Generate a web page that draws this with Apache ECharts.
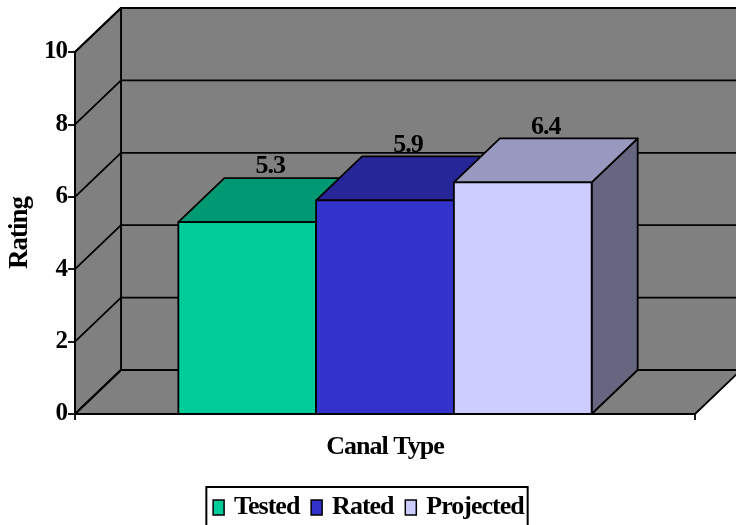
<!DOCTYPE html>
<html>
<head>
<meta charset="utf-8">
<script src="https://cdn.jsdelivr.net/npm/echarts@6/dist/echarts.min.js"></script>
<style>
  html, body { margin: 0; padding: 0; background: #fff; }
  #chart { width: 736px; height: 525px; }
</style>
</head>
<body>
<div id="chart"></div>
<script>
// ---- chart data ----
const categories = [''];
const seriesNames = ['Tested', 'Rated', 'Projected'];
const testedValues = [5.3];
const ratedValues = [5.9];
const projectedValues = [6.4];
const yTickValues = [0, 2, 4, 6, 8, 10];

// ---- styling ----
const FONT = "'Liberation Serif', 'Times New Roman', serif";
const TRACKING = '-1px'; // tight letter tracking for all chart text
const DEPTH_X = 46;    // 3-D depth offset, pixels
const DEPTH_Y = -44;
const GAP_RATIO = 1.5; // gap between category groups, in bar widths
const WALL = '#808080';
const EDGE = '#000';
const LW = 1.8;
const palette = [
  { front: '#00CC99', top: '#009973', side: '#006B50' },
  { front: '#3333CC', top: '#262699', side: '#1A1A70' },
  { front: '#CCCCFF', top: '#9999BF', side: '#666680' }
];
const seriesValues = [testedValues, ratedValues, projectedValues];

// Apply the tracking whenever a canvas font is set (used for both measuring and drawing)
(function () {
  const proto = CanvasRenderingContext2D.prototype;
  const fontDesc = Object.getOwnPropertyDescriptor(proto, 'font');
  if (fontDesc && 'letterSpacing' in proto) {
    Object.defineProperty(proto, 'font', {
      configurable: true,
      get: function () { return fontDesc.get.call(this); },
      set: function (v) { fontDesc.set.call(this, v); this.letterSpacing = TRACKING; }
    });
  }
})();

const chart = echarts.init(document.getElementById('chart'), null, { renderer: 'canvas' });

// Back wall, side wall and floor of the 3-D box, plus gridlines
function renderWalls(params, api) {
  const band = api.size([1, 0])[0];
  const nCat = categories.length;
  const c0 = api.coord([0, yTickValues[0]]);
  const xl = c0[0] - band / 2;
  const xr = xl + band * nCat;
  const yMin = yTickValues[0];
  const yMax = yTickValues[yTickValues.length - 1];
  const y0 = api.coord([0, yMin])[1];
  const y1 = api.coord([0, yMax])[1];
  const dx = DEPTH_X, dy = DEPTH_Y;
  const st = { fill: WALL, stroke: EDGE, lineWidth: LW, lineJoin: 'round' };
  const ln = { stroke: EDGE, lineWidth: LW, fill: null };
  const children = [
    { type: 'polygon', shape: { points: [[xl + dx, y0 + dy], [xl + dx, y1 + dy], [xr + dx, y1 + dy], [xr + dx, y0 + dy]] }, style: st },
    { type: 'polygon', shape: { points: [[xl, y0], [xl, y1], [xl + dx, y1 + dy], [xl + dx, y0 + dy]] }, style: st },
    { type: 'polygon', shape: { points: [[xl, y0], [xr, y0], [xr + dx, y0 + dy], [xl + dx, y0 + dy]] }, style: st }
  ];
  yTickValues.forEach(function (v) {
    const y = api.coord([0, v])[1];
    children.push({ type: 'polyline', shape: { points: [[xl, y], [xl + dx, y + dy], [xr + dx, y + dy]] }, style: ln });
  });
  return { type: 'group', children: children, silent: true };
}

// One 3-D bar: side face, top face, front face and its value label
function makeBarRenderer(si) {
  const col = palette[si];
  return function (params, api) {
    const cat = api.value(0);
    const val = api.value(1);
    const base = api.coord([cat, 0]);
    const top = api.coord([cat, val]);
    const band = api.size([1, 0])[0];
    const n = seriesNames.length;
    const bw = band / (n + GAP_RATIO);
    const x0 = base[0] - bw * n / 2 + bw * si;
    const x1 = x0 + bw;
    const yb = base[1], yt = top[1];
    const dx = DEPTH_X, dy = DEPTH_Y;
    const edge = { stroke: EDGE, lineWidth: LW, lineJoin: 'round' };
    return {
      type: 'group',
      children: [
        { type: 'polygon', shape: { points: [[x1, yb], [x1 + dx, yb + dy], [x1 + dx, yt + dy], [x1, yt]] },
          style: Object.assign({ fill: col.side }, edge) },
        { type: 'polygon', shape: { points: [[x0, yt], [x0 + dx, yt + dy], [x1 + dx, yt + dy], [x1, yt]] },
          style: Object.assign({ fill: col.top }, edge) },
        { type: 'rect', shape: { x: x0, y: yt, width: bw, height: yb - yt },
          style: Object.assign({ fill: col.front }, edge) },
        { type: 'text', z2: 50,
          style: { text: String(val), x: (x0 + x1) / 2 + dx / 2, y: yt + dy + 1,
                   align: 'center', verticalAlign: 'bottom',
                   fontFamily: FONT, fontWeight: 'bold', fontSize: 26, fill: '#000' } }
      ]
    };
  };
}

const series = [{
  type: 'custom',
  name: '__walls',
  z: 1,
  silent: true,
  renderItem: renderWalls,
  data: [[0, 0]]
}];
seriesNames.forEach(function (name, si) {
  series.push({
    type: 'custom',
    name: name,
    z: 2 + si,
    itemStyle: { color: palette[si].front },
    renderItem: makeBarRenderer(si),
    data: categories.map(function (c, i) { return [i, seriesValues[si][i]]; })
  });
});

chart.setOption({
  animation: false,
  backgroundColor: '#fff',
  textStyle: { fontFamily: FONT },
  grid: { left: 75, right: 41, top: 52, bottom: 111, containLabel: false, outerBoundsMode: 'none' },
  xAxis: {
    type: 'category',
    data: categories,
    z: 10,
    name: 'Canal Type',
    nameLocation: 'middle',
    nameGap: 21,
    nameTextStyle: { fontFamily: FONT, fontWeight: 'bold', fontSize: 26, color: '#000' },
    axisLine: { lineStyle: { color: EDGE, width: LW } },
    axisTick: { show: true, length: 6, lineStyle: { color: EDGE, width: LW } },
    axisLabel: { show: false },
    splitLine: { show: false }
  },
  yAxis: {
    type: 'value',
    min: 0,
    max: 10,
    interval: 2,
    z: 10,
    name: 'Rating',
    nameLocation: 'middle',
    nameGap: 42,
    nameRotate: 90,
    nameTextStyle: { fontFamily: FONT, fontWeight: 'bold', fontSize: 27, color: '#000' },
    axisLine: { show: true, lineStyle: { color: EDGE, width: LW } },
    axisTick: { show: true, length: 7, lineStyle: { color: EDGE, width: LW } },
    axisLabel: { margin: 8, fontFamily: FONT, fontWeight: 'bold', fontSize: 25, color: '#000' },
    splitLine: { show: false }
  },
  legend: {
    data: seriesNames,
    top: 487,
    left: 'center',
    orient: 'horizontal',
    icon: 'rect',
    itemWidth: 11,
    itemHeight: 15,
    itemGap: 11,
    padding: [8, 4, 8, 6],
    borderColor: '#000',
    borderWidth: 2,
    backgroundColor: '#fff',
    selectedMode: false,
    itemStyle: { borderColor: '#000', borderWidth: 1.5 },
    textStyle: { fontFamily: FONT, fontWeight: 'bold', fontSize: 26, color: '#000', padding: [0, 0, 0, 5] }
  },
  series: series
});
</script>
</body>
</html>
